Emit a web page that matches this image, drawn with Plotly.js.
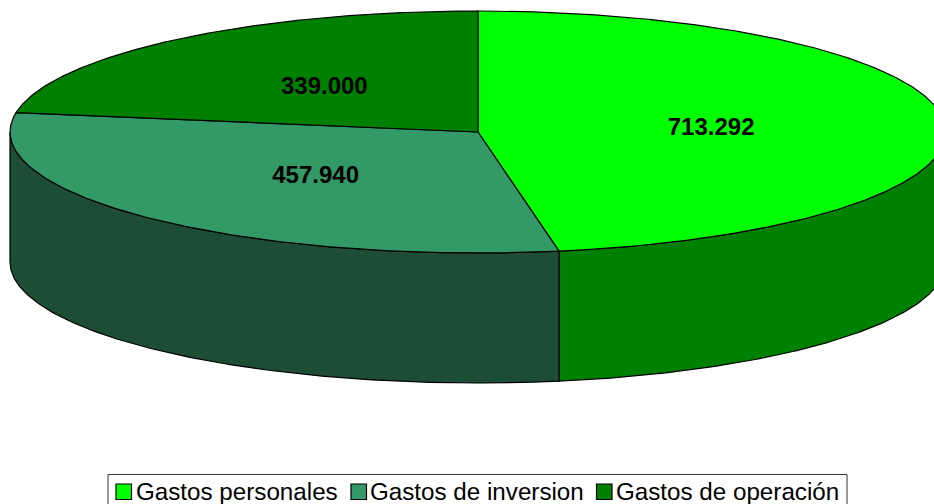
<!DOCTYPE html>
<html>
<head>
<meta charset="utf-8">
<script src="https://cdn.plot.ly/plotly-3.0.1.min.js"></script>
<style>html,body{margin:0;padding:0;background:#fff}#chart{width:934px;height:504px}</style>
</head>
<body>
<div id="chart"></div>
<script>
const categories = ["Gastos personales", "Gastos de inversion", "Gastos de operación"];
const values = [713292, 457940, 339000];
const valueLabels = ["713.292", "457.940", "339.000"];
const topColors = ["#00FF00", "#339966", "#008000"];
const sideColors = ["#008000", "#1D4D34", "#004000"];

const cx = 478, cy = 132, rx = 468, ry = 121, depth = 130;
const labelNudgeX = [0, 2, -2], labelNudgeY = 2;
const legendSwatchX = [116, 351, 596.5];
const legendTextX = [135, 369, 615];

const total = values.reduce((a, b) => a + b, 0);
const rad = d => d * Math.PI / 180;
const px = (deg, r = 1) => cx + rx * r * Math.sin(rad(deg));
const py = (deg, r = 1) => cy - ry * r * Math.cos(rad(deg));
function arc(a0, a1) {
  const pts = [], n = Math.max(2, Math.ceil(Math.abs(a1 - a0) * 2));
  for (let i = 0; i <= n; i++) pts.push(a0 + (a1 - a0) * i / n);
  return pts;
}
let start = 0;
const slices = values.map(v => {
  const s = { a0: start, a1: start + v / total * 360 };
  start = s.a1;
  return s;
});

const traces = [];
const line = { color: "#000", width: 1.2 };
// side walls: only the front half (90..270 degrees) is visible
slices.forEach((s, i) => {
  const a0 = Math.max(s.a0, 90), a1 = Math.min(s.a1, 270);
  if (a1 <= a0) return;
  const top = arc(a0, a1), bottom = top.slice().reverse();
  traces.push({
    type: "scatter", mode: "lines", fill: "toself", fillcolor: sideColors[i], line,
    x: top.map(a => px(a)).concat(bottom.map(a => px(a))).concat([px(a0)]),
    y: top.map(a => py(a)).concat(bottom.map(a => py(a) + depth)).concat([py(a0)]),
    hoverinfo: "skip", showlegend: false
  });
});
// top faces
slices.forEach((s, i) => {
  const pts = arc(s.a0, s.a1);
  traces.push({
    type: "scatter", mode: "lines", fill: "toself", fillcolor: topColors[i], line,
    x: [cx].concat(pts.map(a => px(a))).concat([cx]),
    y: [cy].concat(pts.map(a => py(a))).concat([cy]),
    name: categories[i], showlegend: false, hoverinfo: "skip"
  });
});
// value labels at half radius, mid angle
const mids = slices.map(s => (s.a0 + s.a1) / 2);
traces.push({
  type: "scatter", mode: "text",
  x: mids.map((a, i) => px(a, 0.5) + labelNudgeX[i]), y: mids.map(a => py(a, 0.5) + labelNudgeY),
  text: valueLabels, textposition: "middle center",
  textfont: { family: "Liberation Sans, Arial, sans-serif", size: 24, color: "#000", weight: 700 },
  hoverinfo: "skip", showlegend: false
});

const shapes = [{ type: "rect", xref: "x", yref: "y", x0: 108, x1: 847, y0: 474.5, y1: 520,
  line: { color: "#333", width: 1 }, fillcolor: "#fff", layer: "below" }];
categories.forEach((c, i) => shapes.push({ type: "rect", xref: "x", yref: "y",
  x0: legendSwatchX[i], x1: legendSwatchX[i] + 15.5, y0: 484, y1: 499.5,
  line: { color: "#000", width: 1.2 }, fillcolor: topColors[i] }));
const annotations = categories.map((c, i) => ({
  xref: "x", yref: "y", x: legendTextX[i] - 1, y: 491, xanchor: "left", yanchor: "middle",
  text: c, showarrow: false, font: { family: "Liberation Sans, Arial, sans-serif", size: 24.2, color: "#000" }
}));

Plotly.newPlot("chart", traces, {
  width: 934, height: 504, margin: { l: 0, r: 0, t: 0, b: 0 },
  paper_bgcolor: "#fff", plot_bgcolor: "#fff", showlegend: false,
  xaxis: { range: [0, 934], visible: false, fixedrange: true },
  yaxis: { range: [504, 0], visible: false, fixedrange: true },
  shapes, annotations
}, { staticPlot: true, displayModeBar: false });
</script>
</body>
</html>
